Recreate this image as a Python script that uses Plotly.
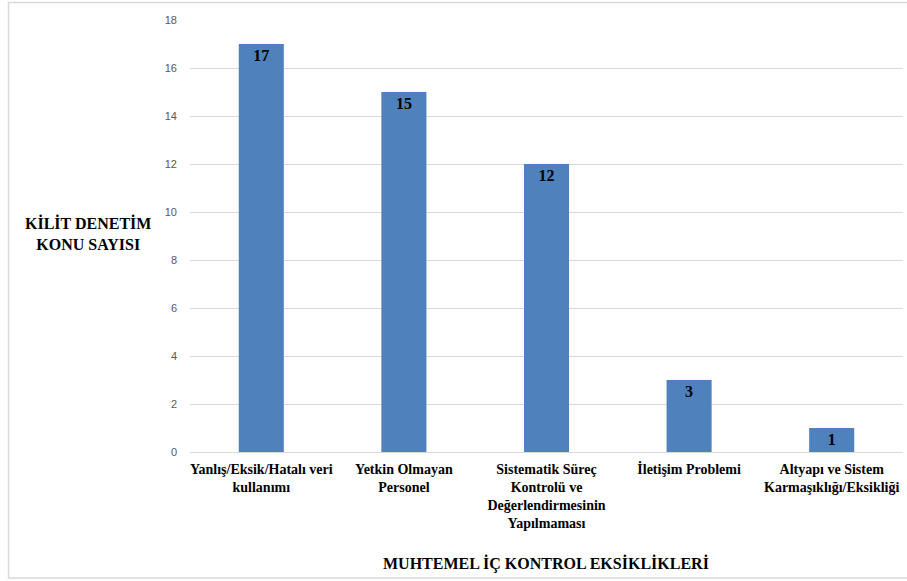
import plotly.graph_objects as go

categories = [
    "Yanlış/Eksik/Hatalı veri<br>kullanımı",
    "Yetkin Olmayan<br>Personel",
    "Sistematik Süreç<br>Kontrolü ve<br>Değerlendirmesinin<br>Yapılmaması",
    "İletişim Problemi",
    "Altyapı ve Sistem<br>Karmaşıklığı/Eksikliği",
]
values = [17, 15, 12, 3, 1]
y_ticks = [0, 2, 4, 6, 8, 10, 12, 14, 16, 18]

W, H = 907, 581
L, R, T, B = 190, 4, 20, 129
pw, ph = W - L - R, H - T - B
SERIF = "Times New Roman"

def px(x):
    return (x - L) / pw

def py(y):
    return (H - B - y) / ph

fig = go.Figure()
fig.add_trace(go.Bar(
    x=categories, y=values,
    marker=dict(color="#4F81BD", line=dict(width=0)),
    text=["<b>%d</b>" % v for v in values],
    textposition="inside", insidetextanchor="end",
    textfont=dict(family=SERIF, size=16, color="black"),
    cliponaxis=False,
))

fig.update_layout(
    width=W, height=H,
    margin=dict(l=L, r=R, t=T, b=B),
    paper_bgcolor="white", plot_bgcolor="white",
    bargap=0.684,
    showlegend=False,
    font=dict(family=SERIF),
    xaxis=dict(
        showgrid=False, showline=True, linecolor="#D9D9D9", linewidth=1,
        ticks="", tickfont=dict(family=SERIF, size=14, color="black"),
        tickangle=0, ticklabelstandoff=4,
        tickvals=categories,
        ticktext=["<b>%s</b>" % c for c in categories],
    ),
    yaxis=dict(
        range=[0, 18], tickvals=y_ticks, showgrid=True, gridcolor="#D9D9D9", gridwidth=1,
        zeroline=False, showline=False, ticks="",
        tickfont=dict(family="Liberation Sans", size=11, color="#595959"),
        ticklabelstandoff=12,
    ),
    annotations=[
        dict(text="<b>KİLİT DENETİM<br>KONU SAYISI</b>", x=px(88), y=py(233), xref="paper", yref="paper",
             showarrow=False, font=dict(family=SERIF, size=16, color="black"),
             xanchor="center", yanchor="middle", align="center"),
        dict(text="<b>MUHTEMEL İÇ KONTROL EKSİKLİKLERİ</b>", x=px(546), y=py(563), xref="paper", yref="paper",
             showarrow=False, font=dict(family=SERIF, size=16, color="black"),
             xanchor="center", yanchor="middle"),
    ],
    shapes=[
        dict(type="rect", xref="paper", yref="paper", x0=px(8.5), x1=px(910), y0=py(578), y1=py(2.5),
             line=dict(color="#D9D9D9", width=1.5), fillcolor="rgba(0,0,0,0)", layer="below"),
    ],
)

fig.write_html("out.html")
